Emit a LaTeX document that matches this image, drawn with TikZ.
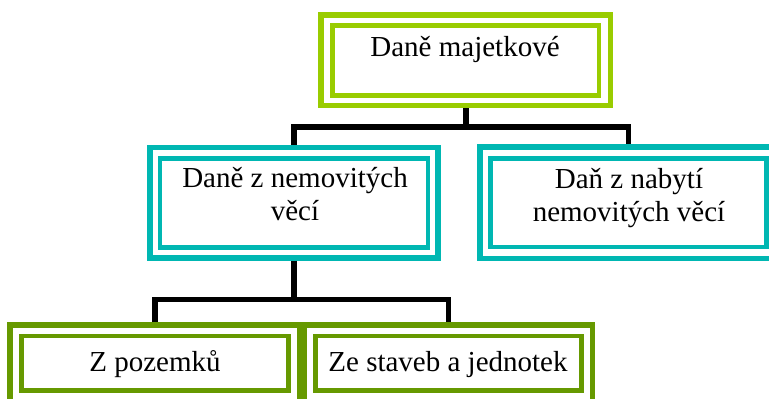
\documentclass[tikz,border=0pt]{standalone}
\usepackage{fontspec}
\setmainfont{Liberation Serif}
\definecolor{limegreen}{RGB}{153,204,0}
\definecolor{tealframe}{RGB}{0,183,178}
\definecolor{olivegreen}{RGB}{102,153,0}
\tikzset{
  outerframe/.style={draw=#1, line width=5.5pt, fill=white, inner sep=0pt, rectangle},
  innerframe/.style={draw=#1, line width=4.5pt, inner sep=0pt, rectangle},
  lbl/.style={font=\fontsize{29}{33}\selectfont, align=center, inner sep=0pt, anchor=base},
  conn/.style={draw=black, line width=5.5pt, line join=miter}
}
\begin{document}
\begin{tikzpicture}[x=1pt,y=-1pt]
\useasboundingbox (0,0) rectangle (769,399);
\begin{scope}
\clip (0,0) rectangle (769,399);

% junction rows of the two connector levels
\coordinate (j1) at (466,127);
\coordinate (j2) at (449,299.5);

% frames (outer ones carry the names used by the connectors)
\node[outerframe=limegreen, minimum width=289.5pt, minimum height=90.5pt] (top) at (465.75,60.25) {};
\node[innerframe=limegreen, minimum width=266.5pt, minimum height=70pt] (topin) at (465.5,60.5) {};

\node[outerframe=tealframe, minimum width=288pt, minimum height=110.5pt] (midL) at (294,202.5) {};
\node[innerframe=tealframe, minimum width=268pt, minimum height=89pt] (midLin) at (294,203) {};

\node[outerframe=tealframe, minimum width=296.5pt, minimum height=111.5pt] (midR) at (628.25,202.75) {};
\node[innerframe=tealframe, minimum width=276pt, minimum height=88.5pt] (midRin) at (628.5,202.75) {};

\node[outerframe=olivegreen, minimum width=289.5pt, minimum height=76.5pt] (botL) at (154.75,363.25) {};
\node[innerframe=olivegreen, minimum width=267pt, minimum height=54.5pt] (botLin) at (155,363.25) {};

\node[outerframe=olivegreen, minimum width=288pt, minimum height=76.5pt] (botR) at (448.5,363.25) {};
\node[innerframe=olivegreen, minimum width=266pt, minimum height=54.5pt] (botRin) at (448.5,363.25) {};

% connectors
\draw[conn] (top.south) -- (top.south |- j1);
\draw[conn] (midL.north) -- (midL.north |- j1) -- (midR.north |- j1) -- (midR.north);
\draw[conn] (midL.south) -- (midL.south |- j2);
\draw[conn] (botL.north) -- (botL.north |- j2) -- (botR.north |- j2) -- (botR.north);

% labels (two-line labels are placed by the baseline of their last line)
\node[lbl] (ttop) at (465,56) {Daně majetkové};
\node[lbl] (tmidL) at (295,220.5) {Daně z nemovitých\\věcí};
\node[lbl] (tmidR) at (629,221.5) {Daň z nabytí\\nemovitých věcí};
\node[lbl] (tbotL) at (155,371) {Z pozemků};
\node[lbl] (tbotR) at (448,371) {Ze staveb a jednotek};
\end{scope}
\end{tikzpicture}
\end{document}
